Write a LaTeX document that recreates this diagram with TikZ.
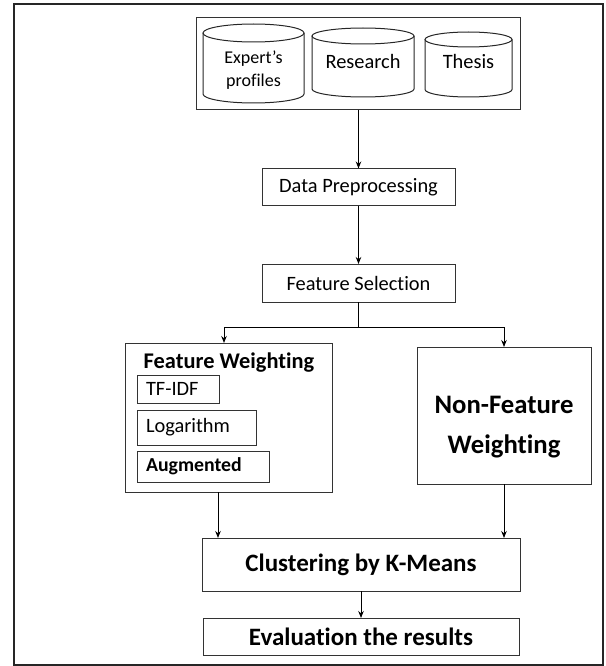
\documentclass[tikz,border=0pt]{standalone}
\usepackage{fontspec}
\setmainfont{Carlito}[Ligatures=NoCommon]
\usetikzlibrary{arrows.meta}
\newcommand\dbcyl[5]{%
  \draw[cyl] ({#1-#2},{#3+#5}) -- ({#1-#2},{#4-#5})
    arc[start angle=180, end angle=360, x radius=#2pt, y radius=#5pt]
    -- ({#1+#2},{#3+#5});
  \draw[cyl] (#1,{#3+#5}) ellipse [x radius=#2pt, y radius=#5pt];}
\begin{document}
\begin{tikzpicture}[x=1pt,y=-1pt,
  box/.style={draw=black!80, line width=1pt, inner sep=0pt, outer sep=0pt},
  cyl/.style={draw=black!85, line width=1pt},
  sub/.style={draw=black!80, line width=1pt, inner xsep=9pt, inner ysep=0pt,
    outer sep=0pt, align=left, anchor=north west},
  arr/.style={draw=black, line width=1pt, -{Stealth[length=7pt,width=5.5pt]}},
  link/.style={draw=black, line width=1pt},
  reg/.style={font=\fontsize{20.4}{24}\selectfont},
  small/.style={font=\fontsize{18}{23}\selectfont},
  bigb/.style={font=\fontsize{25}{30}\selectfont\bfseries},
  fwb/.style={font=\fontsize{22.4}{27}\selectfont\bfseries},
  nfb/.style={font=\fontsize{26.7}{40}\selectfont\bfseries}]
\useasboundingbox (0,0) rectangle (605,666);
% outer frame
\node[box, draw=black!85, line width=1.2pt, minimum width=589, minimum height=661] (frame) at (308.5,334.5) {};
% data sources
\node[box, minimum width=324, minimum height=92] (db) at (358,64) {};
\dbcyl{253.5}{50.5}{24}{103}{9}
\dbcyl{363}{51}{28}{97}{8}
\dbcyl{468.5}{43.5}{32}{97}{7.5}
\node[small, align=center] (t1) at (253.5,70.5) {Expert’s\\profiles};
\node[reg] (t2) at (363,61.5) {Research};
\node[reg] (t3) at (468.5,61.5) {Thesis};
% pipeline
\node[box, reg, minimum width=193, minimum height=37] (dp) at (358.5,187) {Data Preprocessing};
\node[box, reg, minimum width=193, minimum height=38] (fs) at (358.5,283) {Feature Selection};
\node[box, minimum width=207, minimum height=149] (fw) at (228.5,417.5) {};
\node[fwb, anchor=base] (fwt) at (229,368) {Feature Weighting};
\node[sub, reg, text width=64, minimum height=28] (tf) at (137,375) {TF-IDF};
\node[sub, reg, text width=101, minimum height=35] (lg) at (137,410) {Logarithm};
\node[sub, reg, font=\fontsize{19.8}{24}\selectfont\bfseries, text width=114, minimum height=31] (au) at (137,451) {Augmented};
\node[box, minimum width=174, minimum height=137] (nfw) at (504,415.5) {};
\node[nfb, align=center] (nfwt) at (504,427) {Non-Feature\\Weighting};
\node[box, bigb, minimum width=318, minimum height=53] (cl) at (361,564.5) {Clustering by K-Means};
\node[box, bigb, minimum width=316, minimum height=37] (ev) at (361,636.5) {Evaluation the results};
% connectors
\draw[arr] (dp.north |- db.south) -- (dp.north);
\draw[arr] (dp) -- (fs);
\coordinate (jn) at (358.5,327);
\coordinate (jl) at (224,327);
\coordinate (jr) at (504,327);
\draw[link] (fs.south) -- (jn);
\draw[link] (jl) -- (jr);
\draw[arr] (jl) -- (jl |- fw.north);
\draw[arr] (jr) -- (nfw.north);
\draw[arr] ([xshift=-10.5pt]fw.south) -- ([xshift=-10.5pt]fw.south |- cl.north);
\draw[arr] (nfw.south) -- (nfw.south |- cl.north);
\draw[arr] (cl) -- (ev);
\end{tikzpicture}
\end{document}
